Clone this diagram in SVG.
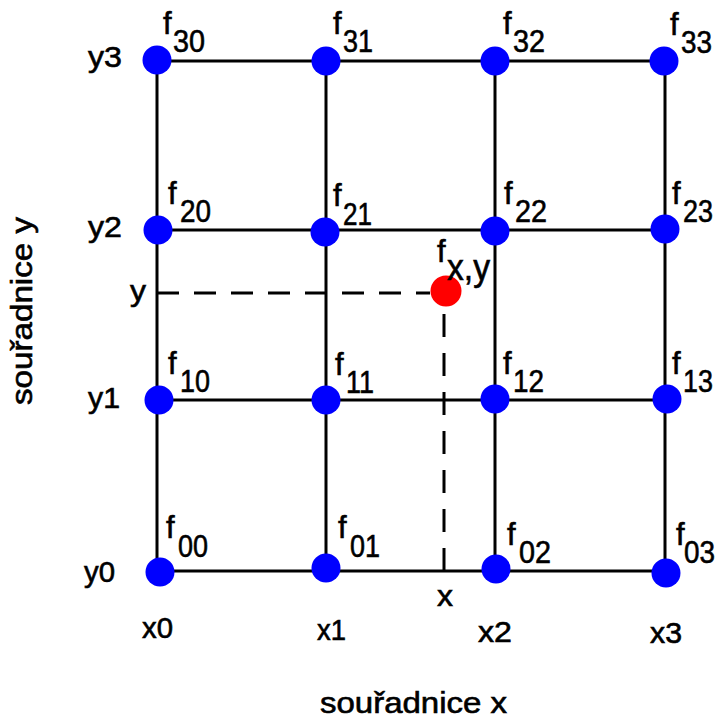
<svg xmlns="http://www.w3.org/2000/svg" width="720" height="719" viewBox="0 0 720 719">
<style>
.ln{stroke:#000;stroke-width:3;fill:none}
.dash{stroke:#000;stroke-width:3;fill:none;stroke-dasharray:22 15}
.dot{fill:#0000ff}
.red{fill:#ff0000}
.t{font-family:"Liberation Sans",Arial,sans-serif;fill:#000;stroke:#000;stroke-width:0.6}
.f{font-size:31px}
.s{font-size:32px}
.l{font-size:29px}
</style>
<rect width="720" height="719" fill="#fff"/>
<g id="connectors">
<line class="ln" x1="157" y1="61" x2="665" y2="61"/>
<line class="ln" x1="157" y1="230" x2="665" y2="230"/>
<line class="ln" x1="157" y1="400" x2="665" y2="400"/>
<line class="ln" x1="157" y1="571" x2="665" y2="571"/>
<line class="ln" x1="157" y1="61" x2="157" y2="571"/>
<line class="ln" x1="326" y1="61" x2="326" y2="571"/>
<line class="ln" x1="495" y1="61" x2="495" y2="571"/>
<line class="ln" x1="665" y1="61" x2="665" y2="571"/>
<line class="dash" x1="157" y1="293" x2="430" y2="293"/>
<line class="dash" x1="444" y1="571" x2="444" y2="306" style="stroke-dasharray:23 16"/>
</g>
<g id="n30"><circle class="dot" cx="157" cy="60" r="14.5"/><text class="t f" x="163" y="34">f</text><text class="t s" x="173" y="52" textLength="32" lengthAdjust="spacingAndGlyphs">30</text></g>
<g id="n31"><circle class="dot" cx="326" cy="61" r="14.5"/><text class="t f" x="333" y="34">f</text><text class="t s" x="343" y="52" textLength="30" lengthAdjust="spacingAndGlyphs">31</text></g>
<g id="n32"><circle class="dot" cx="495" cy="61" r="14.5"/><text class="t f" x="503" y="34">f</text><text class="t s" x="513" y="52" textLength="32" lengthAdjust="spacingAndGlyphs">32</text></g>
<g id="n33"><circle class="dot" cx="664" cy="61" r="14.5"/><text class="t f" x="670" y="35">f</text><text class="t s" x="681" y="53" textLength="31" lengthAdjust="spacingAndGlyphs">33</text></g>
<g id="n20"><circle class="dot" cx="158" cy="230" r="14.5"/><text class="t f" x="168" y="204">f</text><text class="t s" x="180" y="222" textLength="31" lengthAdjust="spacingAndGlyphs">20</text></g>
<g id="n21"><circle class="dot" cx="325" cy="232" r="14.5"/><text class="t f" x="333" y="206">f</text><text class="t s" x="343" y="225" textLength="29" lengthAdjust="spacingAndGlyphs">21</text></g>
<g id="n22"><circle class="dot" cx="495" cy="231" r="14.5"/><text class="t f" x="504" y="204">f</text><text class="t s" x="515" y="222" textLength="32" lengthAdjust="spacingAndGlyphs">22</text></g>
<g id="n23"><circle class="dot" cx="665" cy="229" r="14.5"/><text class="t f" x="672" y="204">f</text><text class="t s" x="683" y="222" textLength="30" lengthAdjust="spacingAndGlyphs">23</text></g>
<g id="n10"><circle class="dot" cx="159" cy="400" r="14.5"/><text class="t f" x="168" y="374">f</text><text class="t s" x="180" y="392" textLength="30" lengthAdjust="spacingAndGlyphs">10</text></g>
<g id="n11"><circle class="dot" cx="326" cy="400" r="14.5"/><text class="t f" x="335" y="375">f</text><text class="t s" x="346" y="393" textLength="28" lengthAdjust="spacingAndGlyphs">11</text></g>
<g id="n12"><circle class="dot" cx="495" cy="399" r="14.5"/><text class="t f" x="503" y="374">f</text><text class="t s" x="513" y="392" textLength="31" lengthAdjust="spacingAndGlyphs">12</text></g>
<g id="n13"><circle class="dot" cx="667" cy="399" r="14.5"/><text class="t f" x="672" y="374">f</text><text class="t s" x="683" y="392" textLength="30" lengthAdjust="spacingAndGlyphs">13</text></g>
<g id="n00"><circle class="dot" cx="160" cy="572" r="14.5"/><text class="t f" x="166" y="538">f</text><text class="t s" x="178" y="557" textLength="30" lengthAdjust="spacingAndGlyphs">00</text></g>
<g id="n01"><circle class="dot" cx="326" cy="568" r="14.5"/><text class="t f" x="338" y="538">f</text><text class="t s" x="350" y="557" textLength="30" lengthAdjust="spacingAndGlyphs">01</text></g>
<g id="n02"><circle class="dot" cx="496" cy="569" r="14.5"/><text class="t f" x="507" y="545">f</text><text class="t s" x="519" y="563" textLength="32" lengthAdjust="spacingAndGlyphs">02</text></g>
<g id="n03"><circle class="dot" cx="666" cy="573" r="14.5"/><text class="t f" x="676" y="545">f</text><text class="t s" x="684" y="563" textLength="31" lengthAdjust="spacingAndGlyphs">03</text></g>
<g id="nxy"><circle class="red" cx="446" cy="291" r="15.5"/><text class="t f" x="437" y="262">f</text><text class="t s" x="447" y="280" textLength="43" lengthAdjust="spacingAndGlyphs" style="font-size:36px">x,y</text></g>
<g id="labels">
<text class="t l" x="88" y="67" textLength="34" lengthAdjust="spacingAndGlyphs">y3</text>
<text class="t l" x="88" y="237" textLength="34" lengthAdjust="spacingAndGlyphs">y2</text>
<text class="t l" x="130" y="301" textLength="16" lengthAdjust="spacingAndGlyphs">y</text>
<text class="t l" x="88" y="408" textLength="32" lengthAdjust="spacingAndGlyphs">y1</text>
<text class="t l" x="84" y="582" textLength="31" lengthAdjust="spacingAndGlyphs">y0</text>
<text class="t l" x="142" y="638" textLength="31" lengthAdjust="spacingAndGlyphs">x0</text>
<text class="t l" x="317" y="640" textLength="29" lengthAdjust="spacingAndGlyphs">x1</text>
<text class="t l" x="478" y="642" textLength="34" lengthAdjust="spacingAndGlyphs">x2</text>
<text class="t l" x="650" y="643" textLength="32" lengthAdjust="spacingAndGlyphs">x3</text>
<text class="t l" x="437" y="606" textLength="16" lengthAdjust="spacingAndGlyphs">x</text>
<text class="t l" x="320" y="713" textLength="187" lengthAdjust="spacingAndGlyphs">souřadnice x</text>
<text class="t l" transform="translate(32,405) rotate(-90)" x="0" y="0" textLength="188" lengthAdjust="spacingAndGlyphs">souřadnice y</text>
</g>
</svg>
